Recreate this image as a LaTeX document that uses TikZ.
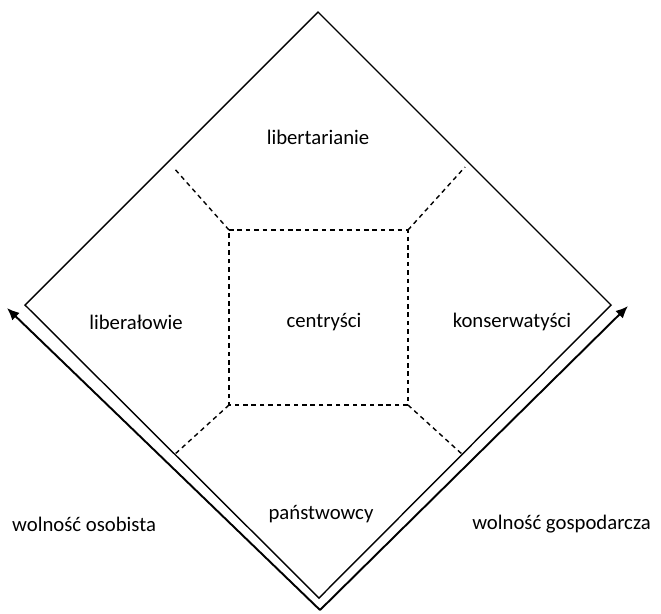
\documentclass[tikz,border=0pt]{standalone}
\usepackage{fontspec}
\setmainfont{Carlito}
\usetikzlibrary{arrows.meta}

\begin{document}
\begin{tikzpicture}[x=0.02cm,y=-0.02cm,
  lbl/.style={font=\fontsize{11.8}{13}\selectfont},
  sep/.style={dash pattern=on 2.6pt off 2.2pt,line width=0.8pt}]
\useasboundingbox (0,0) rectangle (661,613);

% diamond
\coordinate (top) at (318,12);
\coordinate (right) at (611,305);
\coordinate (bottom) at (319,598);
\coordinate (left) at (25,305);
\draw[line width=0.8pt] (top) -- (right) -- (bottom) -- (left) -- cycle;

% axes
\coordinate (origin) at (320,610);
\coordinate (axisL) at (7,308);
\coordinate (axisR) at (628,306);
\draw[line width=1.1pt,-{Latex[length=7pt,width=6pt]}] (origin) -- (axisL);
\draw[line width=1.1pt,-{Latex[length=7pt,width=6pt]}] (origin) -- (axisR);

% middle square
\coordinate (sqTL) at (229,230);
\coordinate (sqTR) at (408,230);
\coordinate (sqBR) at (408,405);
\coordinate (sqBL) at (229,405);
\draw[sep] (sqTL) -- (sqTR) -- (sqBR) -- (sqBL) -- cycle;

% corner lines
\coordinate (edgeTL) at (173,167);
\coordinate (edgeTR) at (465,167);
\coordinate (edgeBL) at (174,455);
\coordinate (edgeBR) at (463,455);
\draw[sep] (sqTL) -- (edgeTL);
\draw[sep] (sqTR) -- (edgeTR);
\draw[sep] (sqBL) -- (edgeBL);
\draw[sep] (sqBR) -- (edgeBR);

% labels
\node[lbl] (libertarianie) at (318,137) {libertarianie};
\node[lbl] (liberalowie) at (136,322) {liberałowie};
\node[lbl] (centrysci) at (324,322) {centryści};
\node[lbl] (konserwatysci) at (512,322) {konserwatyści};
\node[lbl] (panstwowcy) at (321,514) {państwowcy};
\node[lbl,anchor=west] (osobista) at (6,524) {wolność osobista};
\node[lbl,anchor=east] (gospodarcza) at (657,524) {wolność gospodarcza};
\end{tikzpicture}
\end{document}
